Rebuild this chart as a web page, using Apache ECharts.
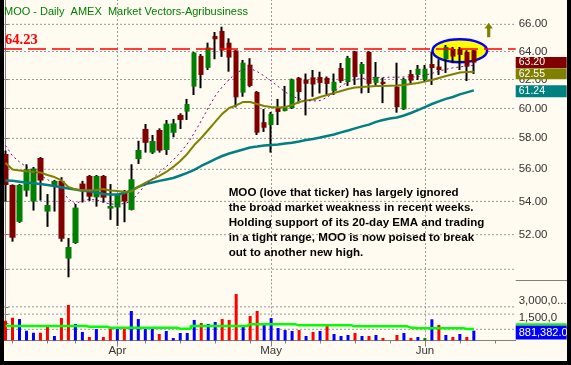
<!DOCTYPE html>
<html><head><meta charset="utf-8">
<script src="https://cdn.jsdelivr.net/npm/echarts@6/dist/echarts.min.js"></script>
<style>html,body{margin:0;padding:0;background:#000}#c{width:571px;height:365px}</style>
</head><body><div id="c"></div><script>
// ---- data (index = trading-day slot; slot 55 is an empty day) ----
const opens  = [56.98,55.01,52.76,54.66,53.99,56.72,53.38,55.01,55.27,50.61,51.51,55.10,55.58,54.25,55.58,53.56,53.63,54.58,53.48,56.65,58.62,57.07,58.55,57.24,58.37,59.56,59.78,61.50,63.68,62.82,65.14,65.51,64.64,64.07,61.08,63.05,61.13,59.07,58.88,60.08,59.83,60.03,62.12,62.00,62.15,62.18,62.11,61.20,62.81,61.82,64.00,62.39,63.97,61.76,61.84,null,61.50,59.94,62.39,62.32,61.96,63.10,62.91,63.44,64.18,64.18,63.97,64.09];
const highs  = [57.20,55.05,55.07,56.32,56.15,56.78,54.45,55.33,55.50,51.80,53.84,55.27,55.64,55.64,55.64,55.07,54.45,54.70,56.32,57.84,58.95,58.22,58.66,59.22,59.29,59.67,60.65,63.97,63.82,64.64,65.43,65.82,64.96,64.11,63.39,63.51,61.20,59.96,59.76,60.65,61.55,62.06,62.18,62.42,62.67,62.55,62.21,62.42,63.17,63.68,64.04,63.24,64.04,63.24,62.12,null,63.19,62.12,62.67,63.03,63.03,63.99,63.44,64.47,64.33,64.33,64.09,64.11];
const lows   = [53.99,51.59,52.70,54.29,53.44,54.05,52.46,53.38,51.59,49.55,51.46,53.93,54.03,53.68,53.93,52.88,52.52,52.74,53.45,56.34,57.07,56.98,57.07,56.92,58.07,58.62,59.22,60.92,61.39,62.67,63.44,63.61,62.55,60.07,60.80,61.46,58.22,58.42,57.07,58.88,59.80,59.96,60.34,59.53,60.80,61.03,60.92,60.92,61.76,61.55,61.62,61.03,61.06,61.55,60.36,null,59.71,59.89,61.69,61.96,61.82,61.62,62.32,62.46,63.15,62.67,61.89,62.39];
const closes = [55.01,51.82,55.01,56.00,56.05,55.29,53.78,55.27,51.76,51.28,53.62,54.70,54.29,55.58,54.23,53.72,54.39,53.99,55.37,57.24,57.71,57.82,57.20,58.97,58.99,59.22,60.30,63.92,62.32,64.29,64.89,64.07,63.56,60.76,63.19,61.55,58.37,58.70,59.63,59.76,60.08,62.00,61.12,61.70,61.65,61.76,61.69,61.84,61.89,63.53,62.18,63.10,61.69,62.18,61.69,null,60.08,62.02,61.92,62.76,62.76,62.81,62.67,64.33,63.63,63.75,62.91,63.20];
const sma10  = [57.53,56.86,56.47,56.15,55.87,55.61,55.36,55.07,54.67,54.15,53.84,54.06,54.12,54.09,53.94,53.84,53.82,53.87,54.00,54.51,55.01,55.39,55.80,56.18,56.59,57.08,57.63,58.35,59.16,60.03,60.85,61.48,62.00,62.46,62.71,62.78,62.56,62.25,61.89,61.51,61.13,60.85,60.65,60.54,60.51,60.54,60.75,61.13,61.55,61.82,62.00,62.07,62.11,62.13,62.14,62.16,62.16,62.18,62.18,62.18,62.29,62.43,62.58,62.72,62.82,62.89,62.96,63.00];
const ema20  = [56.40,55.99,55.93,55.87,55.85,55.80,55.64,55.51,55.30,54.89,54.73,54.68,54.68,54.70,54.76,54.67,54.64,54.59,54.61,54.89,55.14,55.36,55.58,55.83,56.15,56.53,56.98,57.56,58.02,58.55,59.09,59.63,60.03,60.20,60.44,60.44,60.30,60.16,60.09,60.07,60.09,60.23,60.44,60.54,60.61,60.78,60.92,61.06,61.20,61.34,61.44,61.48,61.51,61.54,61.55,61.57,61.58,61.62,61.69,61.76,61.85,61.96,62.11,62.25,62.37,62.49,62.53,62.55];
const sma50  = [55.30,55.27,55.22,55.17,55.12,55.07,55.01,54.95,54.87,54.80,54.73,54.66,54.62,54.54,54.45,54.42,54.42,54.51,54.67,54.89,55.07,55.17,55.27,55.36,55.45,55.61,55.77,55.96,56.21,56.43,56.65,56.85,57.01,57.14,57.27,57.40,57.46,57.53,57.56,57.59,57.66,57.71,57.79,57.89,57.96,58.05,58.15,58.25,58.39,58.52,58.66,58.79,58.91,59.09,59.22,59.32,59.39,59.52,59.69,59.89,60.09,60.30,60.48,60.65,60.78,60.96,61.10,61.24];
const volumes = [1760000,2030000,1910000,870000,690000,690000,1200000,400000,2000000,3160000,1470000,760000,310000,1020000,310000,1020000,1200000,1020000,2630000,1910000,1110000,1110000,580000,850000,220000,670000,670000,1830000,1560000,1470000,1650000,1910000,1830000,4140000,1200000,2180000,2630000,1470000,2000000,1110000,930000,850000,930000,400000,760000,850000,1290000,580000,400000,490000,670000,400000,400000,490000,220000,null,490000,670000,220000,310000,220000,1890000,1380000,490000,310000,580000,310000,881382];
const volDir = [-1,-1,1,1,1,-1,-1,1,-1,-1, 1,1,-1,1,-1,-1,1,-1,1,1, 1,1,-1,1,1,1,1,1,-1,1, 1,-1,-1,-1,1,-1,-1,1,1,1, 1,1,-1,1,-1,1,-1,1,1,1, -1,1,-1,1,-1,0,-1,1,-1,1, 0,1,-1,1,-1,1,-1,1];
const volMA = [1290000,1290000,1290000,1290000,1290000,1290000,1290000,1290000,1290000,1290000,1290000,1290000,1230000,1230000,1230000,1140000,1140000,1140000,1140000,1140000,1140000,1140000,1140000,1140000,1140000,1050000,1050000,1290000,1290000,1290000,1290000,1290000,1290000,1290000,1290000,1440000,1440000,1440000,1440000,1440000,1440000,1440000,1350000,1350000,1350000,1350000,1350000,1350000,1350000,1350000,1260000,1260000,1260000,1260000,1260000,1260000,1260000,1260000,1140000,1090000,1090000,1090000,1090000,1090000,1090000,1090000,1020000,1020000];
const monthIdx = [16, 38, 60];
const monthNames = ['Apr', 'May', 'Jun'];
const weekTickIdx = [1, 6, 10, 20, 25, 30, 35, 40, 45, 50, 55, 65, 70];
const priceTicks = [50, 52, 54, 56, 58, 60, 62, 64, 66];
const priceLabels = [52, 54, 56, 58, 60, 62, 64, 66];
const volTicks = [1000000, 1500000, 2350000, 3000000];
const volGridValues = [1000000, 2350000, 3000000];
const volLabelValues = [1500000, 3000000];
const volLabelTexts = ['1,500,0', '3,000,0...'];
const resistance = 64.23;
const titleText = 'MOO - Daily  AMEX  Market Vectors-Agribusiness';
const noteLines = ['MOO (love that ticker) has largely ignored', 'the broad market weakness in recent weeks.', 'Holding support of its 20-day EMA and trading', 'in a tight range, MOO is now poised to break', 'out to another new high.'];

// ---- axis ranges ----
const X_MIN = -0.215, X_MAX = 72.99;
const P_MIN = 49.34, P_MAX = 67.845;
const V_MAX = 5300000;
const L = Math.log;
const FONT = '"Liberation Sans", Arial, sans-serif';
const CLEAR = { color: 'rgba(0,0,0,0)', width: 1 };
const DOT = { color: '#999999', type: [2, 2], width: 1 };
const n = opens.length;
const last = n - 1;

const wickData = [], bodyData = [], volData = [];
for (let i = 0; i < n; i++) {
  if (opens[i] == null) continue;
  wickData.push([i, L(opens[i]), L(closes[i]), L(lows[i]), L(highs[i])]);
  bodyData.push([i, L(opens[i]), L(closes[i]), L(Math.min(opens[i], closes[i])), L(Math.max(opens[i], closes[i]))]);
}
const volColors = { '1': '#0000ff', '-1': '#ff0000', '0': '#008000' };
for (let i = 0; i < n; i++) {
  if (volumes[i] == null) continue;
  volData.push({ value: [i, volumes[i]], itemStyle: { color: volColors[String(volDir[i])] } });
}
const lineOf = arr => arr.map((v, i) => [i, L(v)]);

function tag(value, text, bg, z, dy, fs, lh) {
  return {
    silent: true, symbol: ['none', 'none'], z: z, precision: 12,
    lineStyle: CLEAR,
    emphasis: { disabled: true },
    label: { show: true, position: 'end', distance: 0, formatter: () => text,
      backgroundColor: bg, color: '#fff', fontFamily: FONT, fontSize: fs, lineHeight: lh,
      width: 48, padding: [0, 0, 0, 3], offset: [0, dy] },
    data: [{ yAxis: value }]
  };
}
// horizontal gridlines as plain line series spanning the axis range
const gridSeries = [];
function addGrid(xi, yi, yVals, yMap) {
  yVals.forEach(v => gridSeries.push({ type: 'line', xAxisIndex: xi, yAxisIndex: yi, silent: true, z: 3,
    data: [[X_MIN, yMap(v)], [X_MAX, yMap(v)]], showSymbol: false, symbol: 'none',
    lineStyle: DOT }));
}
addGrid(0, 0, priceTicks, L);
addGrid(1, 1, volGridValues, v => v);

const chart = echarts.init(document.getElementById('c'), null, { renderer: 'canvas' });
chart.setOption({
  animation: false,
  backgroundColor: '#FFFBF0',
  grid: [
    { left: 4, top: 0, width: 511.7, height: 281, containLabel: false, outerBoundsMode: 'none', show: false },
    { left: 4, top: 281, width: 511.7, height: 59.5, containLabel: false, outerBoundsMode: 'none', show: false }
  ],
  xAxis: [
    { gridIndex: 0, type: 'value', min: X_MIN, max: X_MAX,
      axisLine: { show: false }, axisTick: { show: false }, axisLabel: { show: false },
      splitLine: { show: false } },
    { gridIndex: 1, type: 'value', min: X_MIN, max: X_MAX, position: 'bottom',
      axisLine: { show: true, lineStyle: { color: '#808080', width: 1 } },
      axisTick: { show: true, customValues: weekTickIdx, length: 3, lineStyle: { color: '#808080' } },
      axisLabel: { show: false }, splitLine: { show: false } },
    { gridIndex: 1, type: 'value', min: X_MIN, max: X_MAX, position: 'bottom',
      axisLine: { show: false },
      axisTick: { show: true, customValues: monthIdx, length: 6, lineStyle: { color: '#808080' } },
      axisLabel: { show: true, customValues: monthIdx, formatter: v => monthNames[monthIdx.indexOf(v)],
        color: '#333', fontFamily: FONT, fontSize: 11.5, margin: 4 },
      splitLine: { show: false } }
  ],
  yAxis: [
    { gridIndex: 0, type: 'value', position: 'right', min: L(P_MIN), max: L(P_MAX),
      axisLine: { show: true, lineStyle: { color: '#808080', width: 1 } },
      axisTick: { show: true, length: 3, customValues: priceTicks.map(L), lineStyle: { color: '#808080' } },
      axisLabel: { show: true, customValues: priceLabels.map(L), formatter: v => Math.exp(v).toFixed(2),
        color: '#333', fontFamily: FONT, fontSize: 11.5, margin: 3 },
      splitLine: { show: false } },
    { gridIndex: 1, type: 'value', position: 'right', min: 0, max: V_MAX,
      axisLine: { show: true, lineStyle: { color: '#808080', width: 1 } },
      axisTick: { show: true, length: 3, customValues: volTicks, lineStyle: { color: '#808080' } },
      axisLabel: { show: true, customValues: volLabelValues, formatter: v => volLabelTexts[volLabelValues.indexOf(v)],
        color: '#333', fontFamily: FONT, fontSize: 11.5, margin: 3, verticalAlign: 'bottom' },
      splitLine: { show: false } }
  ],
  series: gridSeries.concat([
    { name: 'monthGridPrice', type: 'line', xAxisIndex: 0, yAxisIndex: 0, silent: true, z: 3,
      data: lineOf(sma50), showSymbol: false, symbol: 'none', lineStyle: CLEAR,
      markLine: { silent: true, symbol: ['none', 'none'], z: 3, precision: 12,
        lineStyle: DOT, label: { show: false }, emphasis: { disabled: true },
        data: monthIdx.map(i => ({ xAxis: i })) } },
    { name: 'monthGridVol', type: 'line', xAxisIndex: 1, yAxisIndex: 1, silent: true, z: 3,
      data: volMA.map((v, i) => [i, v]), showSymbol: false, symbol: 'none', lineStyle: CLEAR,
      markLine: { silent: true, symbol: ['none', 'none'], z: 3, precision: 12,
        lineStyle: DOT, label: { show: false }, emphasis: { disabled: true },
        data: monthIdx.map(i => ({ xAxis: i })) } },
    { name: 'wick', type: 'candlestick', xAxisIndex: 0, yAxisIndex: 0, silent: true,
      dimensions: ['t', 'open', 'close', 'lowest', 'highest'], encode: { x: 0, y: [1, 2, 3, 4] },
      barWidth: 0.5, data: wickData, z: 4,
      itemStyle: { color: '#000', color0: '#000', borderColor: '#000', borderColor0: '#000', borderColorDoji: '#000', borderWidth: 2 } },
    { name: 'body', type: 'candlestick', xAxisIndex: 0, yAxisIndex: 0, silent: true,
      dimensions: ['t', 'open', 'close', 'lowest', 'highest'], encode: { x: 0, y: [1, 2, 3, 4] },
      barWidth: 6, data: bodyData, z: 4,
      itemStyle: { color: '#008000', color0: '#800000', borderColor: '#008000', borderColor0: '#800000', borderWidth: 0 },
      markLine: tag(L(closes[last]), closes[last].toFixed(2), '#800000', 12, 0, 10.5, 11) },
    { name: 'sma50', type: 'line', xAxisIndex: 0, yAxisIndex: 0, silent: true, z: 5,
      data: lineOf(sma50), showSymbol: false, symbol: 'none',
      lineStyle: { color: '#008080', width: 2.5 },
      markLine: tag(L(sma50[last]), sma50[last].toFixed(2), '#008080', 10, 1, 10.5, 12) },
    { name: 'ema20', type: 'line', xAxisIndex: 0, yAxisIndex: 0, silent: true, z: 6,
      data: lineOf(ema20), showSymbol: false, symbol: 'none',
      lineStyle: { color: '#808000', width: 2 },
      markLine: tag(L(ema20[last]), ema20[last].toFixed(2), '#808000', 11, 2, 10.5, 11) },
    { name: 'sma10', type: 'line', xAxisIndex: 0, yAxisIndex: 0, silent: true, z: 7,
      data: lineOf(sma10), showSymbol: false, symbol: 'none',
      lineStyle: { color: '#800080', width: 1, type: [2, 3] },
      markLine: { silent: true, symbol: ['none', 'none'], z: 8, precision: 12,
        lineStyle: { color: '#ff0000', width: 1.5, type: [18, 6] },
        emphasis: { disabled: true },
        label: { show: true, position: 'insideStartTop', distance: 1, formatter: () => resistance.toFixed(2),
          color: '#ff0000', fontFamily: '"Liberation Serif", "Times New Roman", serif', fontWeight: 'bold', fontSize: 14.5 },
        data: [{ yAxis: L(resistance) }] } },
    { name: 'volume', type: 'bar', xAxisIndex: 1, yAxisIndex: 1, silent: true, z: 4,
      barWidth: 3, data: volData,
      markLine: tag(volumes[last], volumes[last].toLocaleString('en-US', { minimumFractionDigits: 1, maximumFractionDigits: 1 }), '#0000ff', 12, 2, 11, 14) },
    { name: 'volMA', type: 'line', xAxisIndex: 1, yAxisIndex: 1, silent: true, z: 5,
      data: volMA.map((v, i) => [i, v]), step: 'middle', showSymbol: false, symbol: 'none',
      lineStyle: { color: '#00ff00', width: 2.5 },
      markLine: { silent: true, symbol: ['none', 'none'], z: 11, precision: 12,
        lineStyle: CLEAR, emphasis: { disabled: true },
        label: { show: true, position: 'end', distance: 0, formatter: () => ' ', backgroundColor: '#00ff00',
          fontSize: 1, lineHeight: 2, width: 51, padding: 0 },
        data: [{ yAxis: Math.max(...volMA) }] } }
  ]),
  graphic: { elements: [
    { type: 'ellipse', z: 3.5, silent: true, shape: { cx: 459.8, cy: 50.7, rx: 27.3, ry: 11.5 },
      style: { fill: '#ffff00', stroke: '#0000ff', lineWidth: 2.5 } },
    { type: 'polygon', z: 20, silent: true,
      shape: { points: [[488.7, 22.7], [492.9, 28.5], [490.3, 28.5], [490.3, 37.3], [487.1, 37.3], [487.1, 28.5], [484.5, 28.5]] },
      style: { fill: '#808000' } },
    { type: 'text', z: 20, silent: true, x: 4, y: 11.7,
      style: { text: titleText, fill: '#008000', font: '11px ' + FONT, verticalAlign: 'middle', align: 'left' } },
    { type: 'text', z: 20, silent: true, x: 228.7, y: 185,
      style: { text: noteLines.join('\n'), fill: '#000', font: 'bold 11.6px ' + FONT, lineHeight: 15, verticalAlign: 'top', align: 'left' } },
    { type: 'line', z: 20, silent: true, shape: { x1: 515.7, y1: 280.5, x2: 567, y2: 280.5 },
      style: { stroke: '#808080', lineWidth: 1 } },
    { type: 'rect', z: 100, silent: true, shape: { x: 0, y: 0, width: 4, height: 365 }, style: { fill: '#000' } },
    { type: 'rect', z: 100, silent: true, shape: { x: 567, y: 0, width: 4, height: 365 }, style: { fill: '#000' } },
    { type: 'rect', z: 100, silent: true, shape: { x: 0, y: 361, width: 571, height: 4 }, style: { fill: '#000' } }
  ] }
});
</script></body></html>
